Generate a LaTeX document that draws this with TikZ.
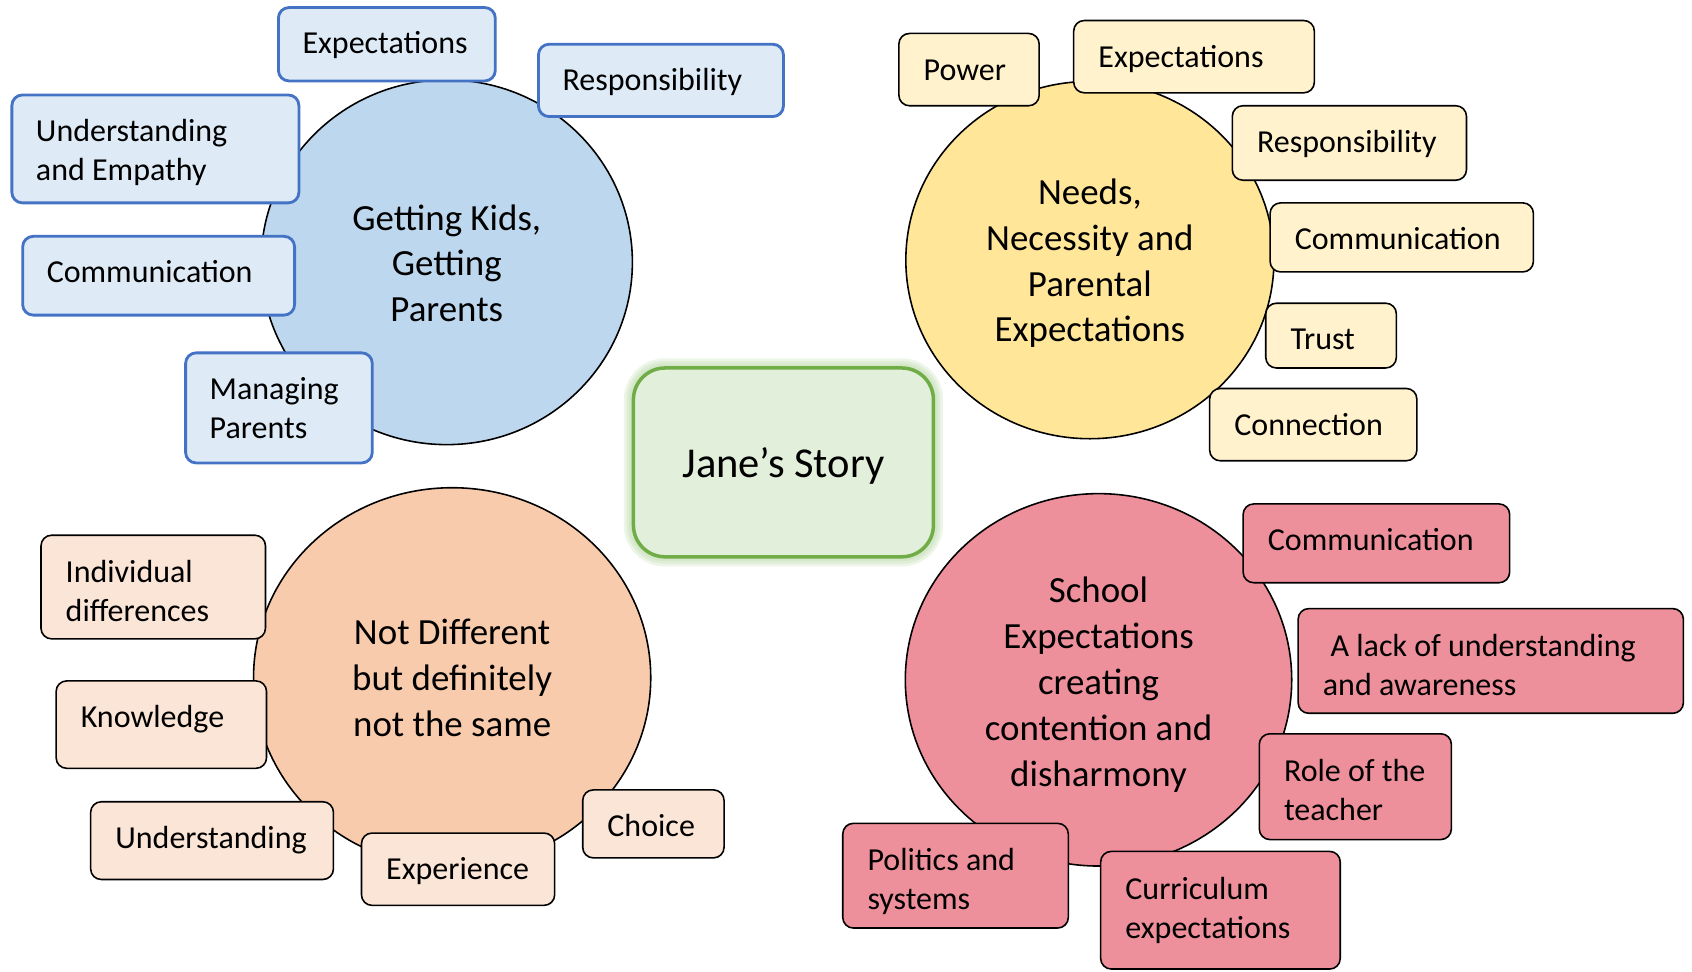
\documentclass[tikz,border=0pt]{standalone}
\usepackage{fontspec}
\setmainfont{Carlito}
\usetikzlibrary{shapes.geometric,fit}
\definecolor{bluecirc}{HTML}{BDD7EE}
\definecolor{bluefill}{HTML}{DEEBF7}
\definecolor{blueline}{HTML}{4472C4}
\definecolor{yelcirc}{HTML}{FFE699}
\definecolor{yelfill}{HTML}{FFF2CC}
\definecolor{orcirc}{HTML}{F8CBAD}
\definecolor{orfill}{HTML}{FBE5D6}
\definecolor{redcirc}{HTML}{EE909B}
\definecolor{redfill}{HTML}{EE909B}
\definecolor{janefill}{HTML}{E2EFDA}
\definecolor{janeline}{HTML}{70AD47}
% one-line tag box
\newcommand{\tagbox}[7]{%
  \node[#2, fit={(#3,#4)(#5,#6)}] (#1) {};
  \node[boxtxt, anchor=base west] (#1t) at ([shift={(23,44)}]#1.north west) {#7};
}
% two-line tag box (base anchor is on the last line)
\newcommand{\tagboxii}[7]{%
  \node[#2, fit={(#3,#4)(#5,#6)}] (#1) {};
  \node[boxtxt, anchor=base west] (#1t) at ([shift={(23,81)}]#1.north west) {#7};
}
\begin{document}
\begin{tikzpicture}[x=0.010791cm,y=-0.010791cm,
  circ/.style={ellipse, draw=black, line width=0.45pt, inner sep=0pt},
  circtxt/.style={inner sep=0pt, align=center, font=\fontsize{10.5}{13.05}\selectfont},
  boxtxt/.style={inner sep=0pt, align=left, font=\fontsize{9.1}{11.1}\selectfont},
  tagbase/.style={rounded corners=3pt, inner sep=0pt},
  bbox/.style={tagbase, draw=blueline, fill=bluefill, line width=0.8pt},
  ybox/.style={tagbase, draw=black, fill=yelfill, line width=0.45pt},
  obox/.style={tagbase, draw=black, fill=orfill, line width=0.45pt},
  rbox/.style={tagbase, draw=black, fill=redfill, line width=0.45pt},
  jane/.style={rounded corners=9pt, inner sep=0pt, fill=janefill, draw=janeline, line width=1pt},
  glow/.style={rounded corners=9pt, inner sep=0pt, draw=janeline!55, opacity=0.22},
]
\useasboundingbox (0,0) rectangle (1568,900);
\fill[white] (0,0) rectangle (1568,900);

% circles
\node[circ, fill=bluecirc, minimum width=3.712cm, minimum height=3.647cm] (cblue) at (414,243) {};
\node[circtxt] (cbluet) at (414,244) {Getting Kids,\\Getting\\Parents};
\node[circ, fill=yelcirc, minimum width=3.680cm, minimum height=3.572cm] (cyel) at (1010,241) {};
\node[circtxt] (cyelt) at (1010,244) {Needs,\\Necessity and\\Parental\\Expectations};
\node[circ, fill=orcirc, minimum width=3.971cm, minimum height=3.798cm] (cor) at (419,628) {};
\node[circtxt] (cort) at (419,628) {Not Different\\but definitely\\not the same};
\node[circ, fill=redcirc, minimum width=3.863cm, minimum height=3.723cm] (cred) at (1018,630) {};
\node[circtxt] (credt) at (1018,634.5) {School\\Expectations\\creating\\contention and\\disharmony};

% Jane's story
\node[glow, line width=5.5pt, fit={(587,341)(865,516)}] (jg1) {};
\node[glow, line width=4pt, fit={(587,341)(865,516)}] (jg2) {};
\node[glow, line width=2.5pt, fit={(587,341)(865,516)}] (jg3) {};
\node[jane, fit={(587,341)(865,516)}] (jbox) {};
\node[inner sep=0pt, font=\fontsize{12.1}{14.5}\selectfont] (jtext) at ([yshift=-0.9pt]jbox.center) {Jane’s Story};

% blue boxes
\tagbox{bexp}{bbox}{258}{7}{459}{75}{Expectations}
\tagbox{bresp}{bbox}{499}{41}{726}{108}{Responsibility}
\tagboxii{bund}{bbox}{11}{88}{277}{188}{Understanding\\and Empathy}
\tagbox{bcom}{bbox}{21}{219}{273}{292}{Communication}
\tagboxii{bman}{bbox}{172}{327}{345}{429}{Managing\\Parents}

% yellow boxes
\tagbox{ypow}{ybox}{833}{31}{963}{98}{Power}
\tagbox{yexp}{ybox}{995}{19}{1218}{86}{Expectations}
\tagbox{yresp}{ybox}{1142}{98}{1359}{167}{Responsibility}
\tagbox{ycom}{ybox}{1177}{188}{1421}{252}{Communication}
\tagbox{ytru}{ybox}{1173}{281}{1294}{341}{Trust}
\tagbox{ycon}{ybox}{1121}{360}{1313}{427}{Connection}

% orange boxes
\tagboxii{oind}{obox}{38}{496}{246}{592}{Individual\\differences}
\tagbox{okno}{obox}{52}{631}{247}{712}{Knowledge}
\tagbox{ound}{obox}{84}{743}{309}{815}{Understanding}
\tagbox{oexp}{obox}{335}{772}{514}{839}{Experience}
\tagbox{ocho}{obox}{540}{732}{671}{795}{Choice}

% red boxes
\tagbox{rcom}{rbox}{1152}{467}{1399}{540}{Communication}
\tagboxii{rlack}{rbox}{1203}{564}{1560}{661}{\hspace*{2.2pt}A lack of understanding\\and awareness}
\tagboxii{rrole}{rbox}{1167}{680}{1345}{778}{Role of the\\teacher}
\tagboxii{rpol}{rbox}{781}{763}{990}{860}{Politics and\\systems}
\tagboxii{rcur}{rbox}{1020}{789}{1242}{898}{Curriculum\\expectations}
\end{tikzpicture}
\end{document}
